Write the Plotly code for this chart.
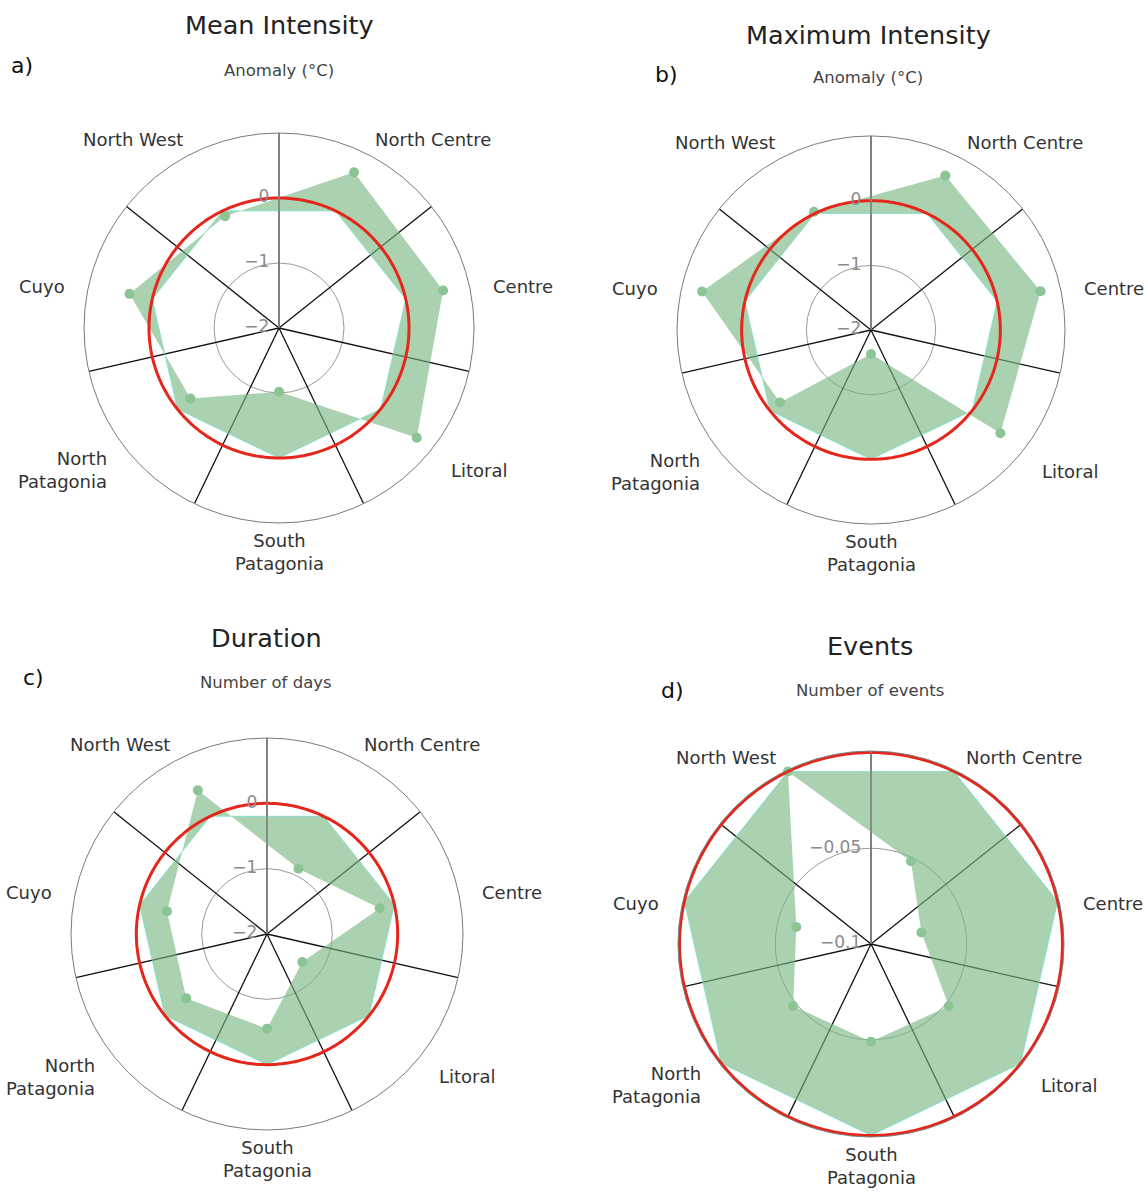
import numpy as np
import plotly.graph_objects as go

# Regions, clockwise from the top
regions = ["North Centre", "Centre", "Litoral", "South<br>Patagonia",
           "North<br>Patagonia", "Cuyo", "North West"]

# Anomalies per region for each heat-wave index
mean_intensity = [0.66, 0.59, 0.71, -1.02, -0.26, 0.36, -0.09]
max_intensity = [0.65, 0.69, 0.56, -1.63, -0.20, 0.68, 0.03]
duration_days = [-0.89, -0.23, -1.31, -0.55, -0.42, -0.43, 0.44]
event_count = [-0.052, -0.073, -0.048, -0.049, -0.048, -0.060, 0.0]

panel_titles = ["Mean Intensity", "Maximum Intensity", "Duration", "Events"]
panel_letters = ["a)", "b)", "c)", "d)"]
panel_units = ["Anomaly (°C)", "Anomaly (°C)", "Number of days", "Number of events"]
radial_ranges = [[-2, 1], [-2, 1], [-2, 1], [-0.1, 0.0008]]
radial_ticks = [[-2, -1, 0], [-2, -1, 0], [-2, -1, 0], [-0.1, -0.05]]
radial_tick_text = [["\u22122", "\u22121", "0"], ["\u22122", "\u22121", "0"],
                    ["\u22122", "\u22121", "0"], ["\u22120.1", "\u22120.05"]]
series = [mean_intensity, max_intensity, duration_days, event_count]

W, H = 1148, 1192
FONT = "DejaVu Sans"
FILL = "rgba(120,182,128,0.62)"
DOT = "rgb(140,196,150)"
RED = "#e5261b"

# layout geometry (pixel centre and radius of each polar panel)
panel_geom = [(279, 328, 195), (871, 330, 194), (267, 934, 196), (871, 944, 193)]
title_pos = [(279, 25), (868, 35), (266, 638), (870, 646)]
letter_pos = [(22, 66), (667, 75), (33, 677), (672, 690)]
unit_pos = [(279, 70), (868, 78), (266, 682), (870, 690)]
LABEL_GAP = 22     # px between circle and region label
LABEL_DROP = 7     # px downward nudge of region labels

n = len(regions)
step = 360.0 / n
rotation = 90 - step / 2
cat_theta = [i * step for i in range(n)]
edge_theta = [(i - 0.5) * step for i in range(n)]
axis_theta = edge_theta[0]          # the divider pointing straight up

fig = go.Figure()
layout_polars = {}
annotations = []


def paper_text(text, px, py, size, color, xanchor="center"):
    return dict(text=text, x=px / W, y=1 - py / H, xref="paper", yref="paper",
                xanchor=xanchor, yanchor="middle", showarrow=False,
                font=dict(family=FONT, size=size, color=color))


for k in range(4):
    sub = "polar" if k == 0 else f"polar{k + 1}"
    rmin, rmax = radial_ranges[k]
    vals = series[k]

    # sector dividers
    sp_r, sp_t = [], []
    for b in edge_theta:
        sp_r += [rmin, rmax, None]
        sp_t += [b, b, None]
    fig.add_trace(go.Scatterpolar(r=sp_r, theta=sp_t, mode="lines",
                                  line=dict(color="#111111", width=1.3),
                                  subplot=sub, showlegend=False, hoverinfo="skip"))

    # zero reference polygon
    fig.add_trace(go.Scatterpolar(r=[0] * (n + 1), theta=cat_theta + [cat_theta[0]],
                                  mode="lines", line=dict(color="rgba(110,225,205,0.7)", width=1),
                                  subplot=sub, showlegend=False, hoverinfo="skip"))

    # band between the values and zero
    fig.add_trace(go.Scatterpolar(r=vals + [vals[0]], theta=cat_theta + [cat_theta[0]],
                                  mode="lines", line=dict(width=0, color=FILL),
                                  fill="tonext", fillcolor=FILL,
                                  subplot=sub, showlegend=False))

    fig.add_trace(go.Scatterpolar(r=vals, theta=cat_theta, mode="markers",
                                  marker=dict(color=DOT, size=10),
                                  cliponaxis=False, subplot=sub, showlegend=False))

    # zero circle
    circ_t = np.linspace(0, 360, 361)
    fig.add_trace(go.Scatterpolar(r=np.zeros_like(circ_t), theta=circ_t, mode="lines",
                                  line=dict(color=RED, width=3),
                                  subplot=sub, showlegend=False, hoverinfo="skip"))

    # radial tick labels, left of the vertical axis (invisible markers set the gap)
    fig.add_trace(go.Scatterpolar(r=radial_ticks[k], theta=[axis_theta] * len(radial_ticks[k]),
                                  mode="markers+text", text=radial_tick_text[k],
                                  marker=dict(size=14, color="rgba(0,0,0,0)"),
                                  textposition="middle left", cliponaxis=False,
                                  textfont=dict(family=FONT, size=17, color="#8a8a8a"),
                                  subplot=sub, showlegend=False, hoverinfo="skip"))

    cx, cy, R = panel_geom[k]
    layout_polars[sub] = dict(
        domain=dict(x=[(cx - R) / W, (cx + R) / W],
                    y=[(H - cy - R) / H, (H - cy + R) / H]),
        bgcolor="white",
        angularaxis=dict(
            thetaunit="degrees", rotation=rotation, direction="clockwise",
            tickmode="array", tickvals=cat_theta, showticklabels=False,
            showgrid=False, showline=True, linecolor="#7a7a7a", linewidth=1,
            ticks="",
        ),
        radialaxis=dict(
            range=[rmin, rmax], tickmode="array", tickvals=radial_ticks[k],
            angle=90, showticklabels=False,
            showline=True, linecolor="#8a8a8a", linewidth=1.5,
            gridcolor="#9a9a9a", gridwidth=1, ticks="",
            layer="above traces",
        ),
    )

    # region labels around the rim
    for name, th in zip(regions, cat_theta):
        ang = np.deg2rad(rotation - th)
        c, s = np.cos(ang), np.sin(ang)
        lx = cx + (R + LABEL_GAP) * c
        ly = cy - (R + LABEL_GAP) * s + LABEL_DROP
        anchor = "left" if c > 0.1 else ("right" if c < -0.1 else "center")
        annotations.append(dict(paper_text(name, lx, ly, 18, "#333333", anchor), align=anchor))

    tx, ty = title_pos[k]
    annotations.append(paper_text(panel_titles[k], tx, ty, 25.5, "#222222"))
    lx, ly = letter_pos[k]
    annotations.append(paper_text(panel_letters[k], lx, ly, 22, "#111111"))
    ux, uy = unit_pos[k]
    annotations.append(paper_text(panel_units[k], ux, uy, 16.5, "#444444"))

fig.update_layout(width=W, height=H, margin=dict(l=0, r=0, t=0, b=0),
                  paper_bgcolor="white", plot_bgcolor="white",
                  showlegend=False, annotations=annotations, **layout_polars)

fig.write_html("out.html")
